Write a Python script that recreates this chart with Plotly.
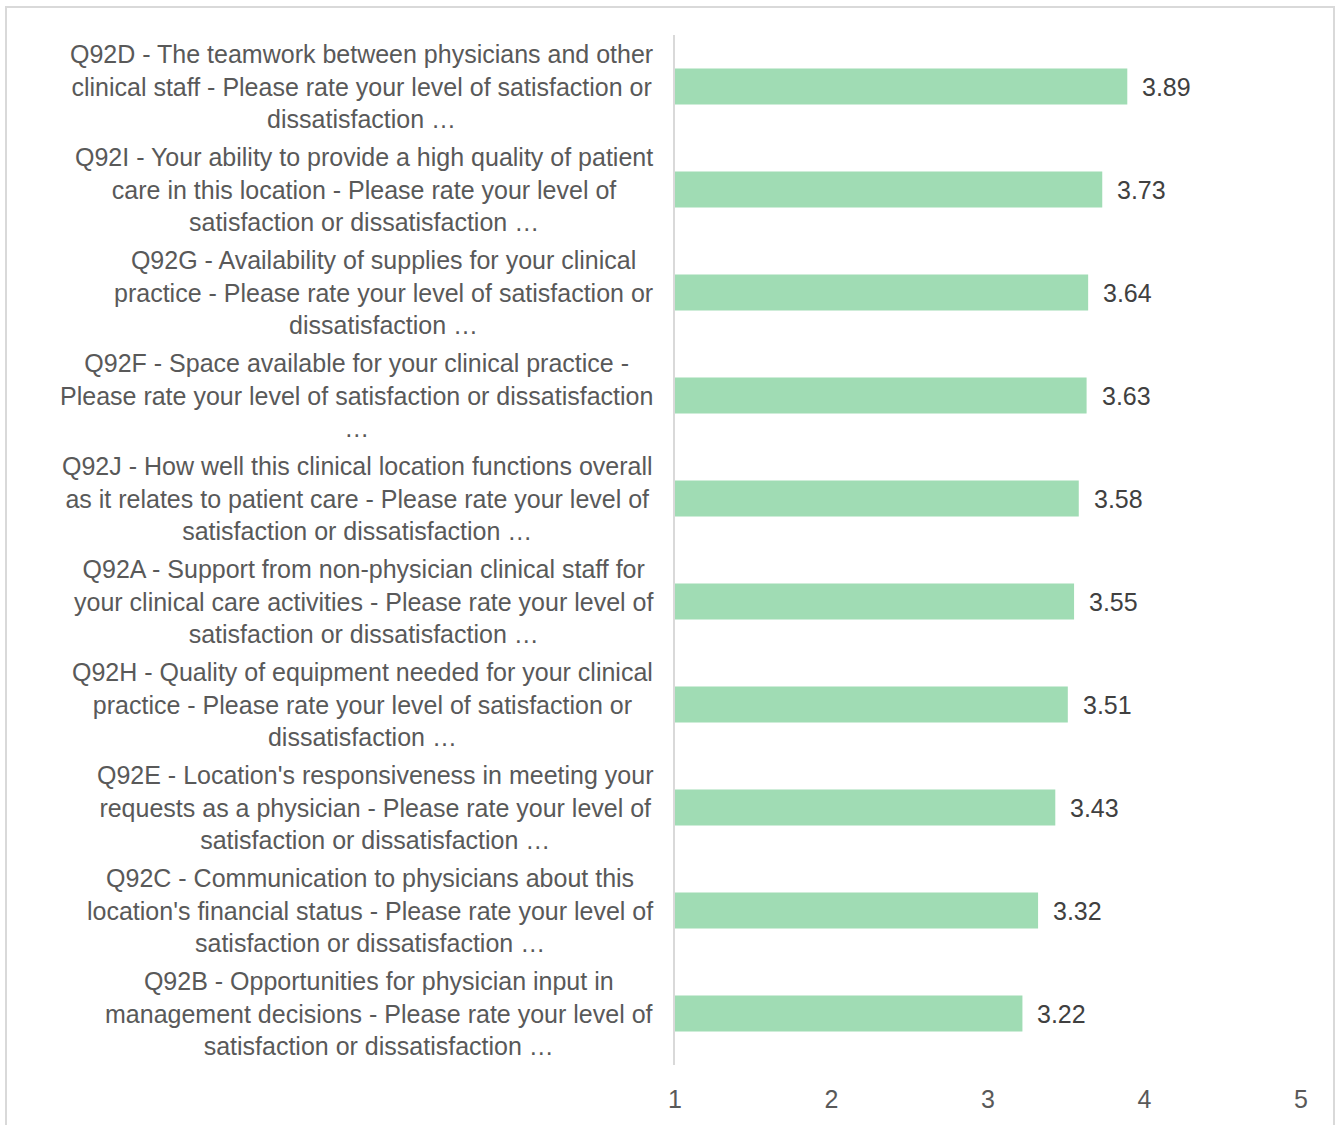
import plotly.graph_objects as go

# Survey items (top to bottom) and their mean satisfaction scores
categories = [
    "Q92D - The teamwork between physicians and other<br>clinical staff - Please rate your level of satisfaction or<br>dissatisfaction …",
    "Q92I - Your ability to provide a high quality of patient<br>care in this location - Please rate your level of<br>satisfaction or dissatisfaction …",
    "Q92G - Availability of supplies for your clinical<br>practice - Please rate your level of satisfaction or<br>dissatisfaction …",
    "Q92F - Space available for your clinical practice -<br>Please rate your level of satisfaction or dissatisfaction<br>…",
    "Q92J - How well this clinical location functions overall<br>as it relates to patient care - Please rate your level of<br>satisfaction or dissatisfaction …",
    "Q92A - Support from non-physician clinical staff for<br>your clinical care activities - Please rate your level of<br>satisfaction or dissatisfaction …",
    "Q92H - Quality of equipment needed for your clinical<br>practice - Please rate your level of satisfaction or<br>dissatisfaction …",
    "Q92E - Location's responsiveness in meeting your<br>requests as a physician - Please rate your level of<br>satisfaction or dissatisfaction …",
    "Q92C - Communication to physicians about this<br>location's financial status - Please rate your level of<br>satisfaction or dissatisfaction …",
    "Q92B - Opportunities for physician input in<br>management decisions - Please rate your level of<br>satisfaction or dissatisfaction …",
]
scores = [3.89, 3.73, 3.64, 3.63, 3.58, 3.55, 3.51, 3.43, 3.32, 3.22]
x_ticks = [1, 2, 3, 4, 5]

FONT = "Liberation Sans, Arial, sans-serif"
LABEL_GREY = "#595959"
VALUE_GREY = "#404040"
BAR_GREEN = "#A0DCB4"
LINE_GREY = "#D9D9D9"

fig = go.Figure(
    go.Bar(
        x=scores,
        y=categories,
        orientation="h",
        width=0.35,
        marker=dict(color=BAR_GREEN, line=dict(width=0)),
        hoverinfo="x+y",
    )
)

annotations = []
# Category labels, centred line by line, block right-aligned next to the axis
for cat in categories:
    annotations.append(dict(
        x=1, y=cat, xref="x", yref="y",
        text=cat, showarrow=False,
        xanchor="right", yanchor="middle", align="center",
        xshift=-20,
        font=dict(family=FONT, size=25, color=LABEL_GREY),
    ))
# Value labels at the end of each bar
for cat, val in zip(categories, scores):
    annotations.append(dict(
        x=val, y=cat, xref="x", yref="y",
        text=f"{val:.2f}", showarrow=False,
        xanchor="left", yanchor="middle",
        xshift=13,
        font=dict(family=FONT, size=25, color=VALUE_GREY),
    ))

fig.update_layout(
    width=1337,
    height=1125,
    margin=dict(l=675, r=36, t=35, b=58),
    paper_bgcolor="white",
    plot_bgcolor="white",
    showlegend=False,
    font=dict(family=FONT, size=25, color=LABEL_GREY),
    annotations=annotations,
    shapes=[dict(
        type="rect", xref="paper", yref="paper",
        x0=-1.0687, x1=1.0527, y0=-0.08, y1=1.0271,
        line=dict(color=LINE_GREY, width=2),
        fillcolor="rgba(0,0,0,0)", layer="below",
    )],
)

fig.update_xaxes(
    range=[1, 5],
    tickvals=x_ticks,
    ticktext=[str(t) for t in x_ticks],
    showgrid=False,
    zeroline=False,
    showline=False,
    ticks="outside",
    ticklen=12,
    tickcolor="rgba(0,0,0,0)",
    tickfont=dict(family=FONT, size=25, color=LABEL_GREY),
)
fig.update_yaxes(
    categoryorder="array",
    categoryarray=categories,
    range=[9.5, -0.5],
    showticklabels=False,
    showgrid=False,
    zeroline=False,
    showline=True,
    linecolor=LINE_GREY,
    linewidth=2,
    ticks="",
)

fig.write_html("out.html")
